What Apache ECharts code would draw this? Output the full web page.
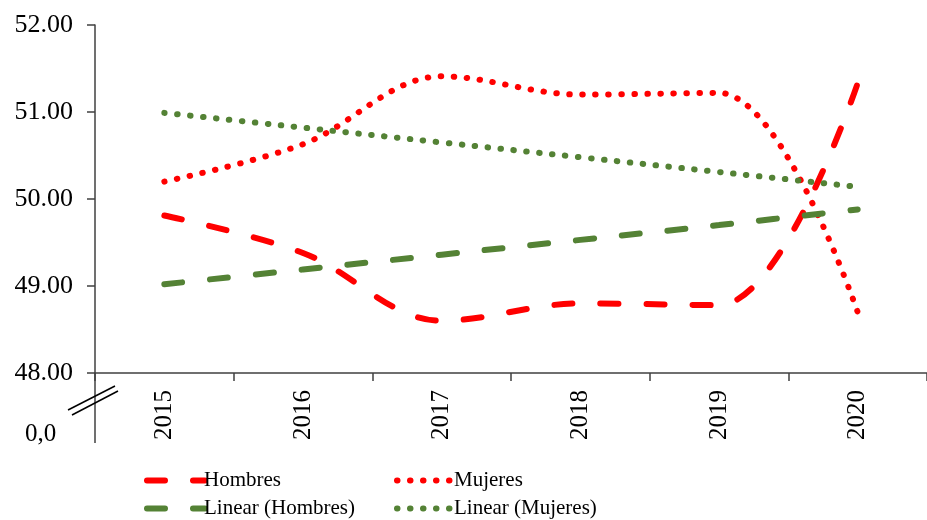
<!DOCTYPE html>
<html>
<head>
<meta charset="utf-8">
<script src="https://cdn.jsdelivr.net/npm/echarts@6/dist/echarts.min.js"></script>
<style>
  html, body { margin: 0; padding: 0; background: #fff; }
  #chart { width: 927px; height: 520px; }
</style>
</head>
<body>
<div id="chart"></div>
<script>
// valores
const years = ['2015', '2016', '2017', '2018', '2019', '2020']
const hombres = [49.81, 49.38, 48.60, 48.80, 48.78, 51.33]
const mujeres = [50.20, 50.63, 51.41, 51.20, 51.22, 48.70]
const linearHombres = [49.02, 49.19, 49.36, 49.53, 49.70, 49.88]
const linearMujeres = [50.99, 50.82, 50.65, 50.48, 50.31, 50.14]

const RED = '#ff0000'
const GREEN = '#548235'
const FONT = '"Liberation Serif", "Times New Roman", serif'
const AXIS = '#404040'

const dashed = [18, 28]
const dotted = [0.5, 12.5]

function lineSeries(name, data, color, dash, width) {
  return {
    name,
    type: 'line',
    data,
    smooth: 0.35,
    symbol: 'none',
    lineStyle: { color, width, type: dash, cap: 'round' },
    itemStyle: { color },
    z: 3
  }
}

function legendAt(left, names) {
  return {
    data: names,
    orient: 'vertical',
    left,
    top: 465,
    height: 60,
    itemWidth: 58,
    itemHeight: 14,
    itemGap: 7,
    itemStyle: { opacity: 0 },
    lineStyle: { width: 6 },
    textStyle: { fontFamily: FONT, fontSize: 21, color: '#000', padding: [0, 0, 0, -6] }
  }
}

const chart = echarts.init(document.getElementById('chart'), null, { renderer: 'canvas' })

chart.setOption({
  backgroundColor: '#fff',
  animation: false,
  grid: { left: 95, top: 25, right: -8, bottom: 147, containLabel: false },
  legend: [
    legendAt(139, ['Hombres', 'Linear (Hombres)']),
    legendAt(389, ['Mujeres', 'Linear (Mujeres)'])
  ],
  xAxis: {
    type: 'category',
    data: years,
    boundaryGap: true,
    axisLine: { lineStyle: { color: AXIS, width: 1.5 } },
    axisTick: { show: true, length: 8, lineStyle: { color: AXIS, width: 1.5 } },
    axisLabel: { rotate: 90, margin: 17, fontFamily: FONT, fontSize: 25, color: '#000' },
    splitLine: { show: false }
  },
  yAxis: {
    type: 'value',
    min: 48,
    max: 52,
    interval: 1,
    axisLine: { show: true, lineStyle: { color: AXIS, width: 1.5 } },
    axisTick: { show: true, length: 8, lineStyle: { color: AXIS, width: 1.5 } },
    axisLabel: {
      margin: 22,
      fontFamily: FONT,
      fontSize: 26,
      color: '#000',
      formatter: (v) => v.toFixed(2)
    },
    splitLine: { show: false }
  },
  series: [
    lineSeries('Hombres', hombres, RED, dashed, 6),
    lineSeries('Mujeres', mujeres, RED, dotted, 6),
    lineSeries('Linear (Hombres)', linearHombres, GREEN, dashed, 6),
    lineSeries('Linear (Mujeres)', linearMujeres, GREEN, dotted, 6)
  ],
  graphic: [
    // prolongación del eje y y marca de corte
    { type: 'line', shape: { x1: 95, y1: 373, x2: 95, y2: 443 }, style: { stroke: AXIS, lineWidth: 1.5 } },
    { type: 'line', shape: { x1: 68, y1: 410, x2: 115, y2: 386 }, style: { stroke: '#000', lineWidth: 1.5 } },
    { type: 'line', shape: { x1: 72, y1: 415, x2: 118, y2: 391 }, style: { stroke: '#000', lineWidth: 1.5 } },
    {
      type: 'text',
      left: 25,
      top: 422,
      style: { text: '0,0', font: '25px ' + FONT, fill: '#000' }
    }
  ]
})
</script>
</body>
</html>
